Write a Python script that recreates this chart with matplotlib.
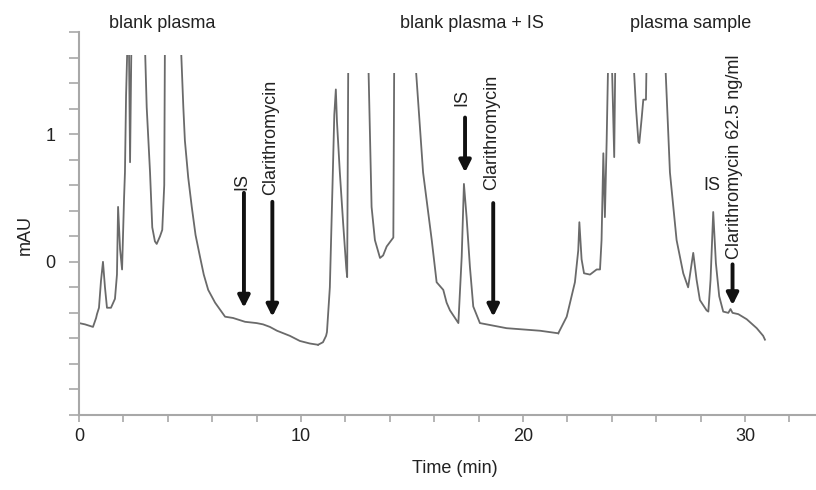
import numpy as np
import matplotlib
matplotlib.use("Agg")
import matplotlib.pyplot as plt
from matplotlib.patches import Rectangle

plt.rcParams['font.family'] = ['Liberation Sans', 'DejaVu Sans']

# ---- data: three chromatograms placed one after another (time in min, signal in mAU)
# values above the detector display range are off-scale (clipped at the panel top)
t_blank = [0.00, 0.27, 0.63, 0.77, 0.81, 0.90, 0.99, 1.08, 1.17, 1.26, 1.44, 1.62, 1.71, 1.76,
           1.85, 1.94, 2.03, 2.07, 2.12, 2.18, 2.22, 2.25, 2.30, 2.36, 2.45, 2.90, 2.97, 3.05,
           3.20, 3.30, 3.42, 3.50, 3.65, 3.75, 3.84, 3.87, 3.95, 4.50, 4.59, 4.70, 4.77, 4.92, 5.08,
           5.25, 5.45, 5.62, 5.82, 6.13, 6.58, 6.94, 7.48, 8.00, 8.29, 8.60, 8.92, 9.50, 9.95, 10.40, 10.77]
y_blank = [-0.48, -0.49, -0.51, -0.44, -0.41, -0.36, -0.15, 0.00, -0.20, -0.36, -0.36, -0.29, -0.10, 0.43,
           0.10, -0.06, 0.50, 0.70, 1.30, 1.70, 2.50, 1.70, 0.78, 1.70, 2.50, 2.50, 1.70, 1.21,
           0.70, 0.27, 0.16, 0.14, 0.20, 0.25, 0.60, 1.70, 2.50, 2.50, 1.70, 1.21, 0.95, 0.66, 0.43,
           0.21, 0.04, -0.10, -0.22, -0.32, -0.43, -0.44, -0.47, -0.48, -0.49, -0.51, -0.54, -0.58, -0.62, -0.64, -0.65]

t_blank_is = [10.77, 10.99, 11.13, 11.17, 11.30, 11.42, 11.50, 11.57, 11.62, 11.75, 11.90, 12.04, 12.08,
              12.13, 12.20, 12.95, 13.03, 13.18, 13.33, 13.56, 13.70, 13.86, 14.16, 14.20, 14.30,
              15.05, 15.14, 15.50, 15.89, 16.11, 16.41, 16.56, 16.71, 17.09, 17.24, 17.34, 17.46,
              17.61, 17.76, 18.06, 19.26, 20.77, 21.59]
y_blank_is = [-0.65, -0.63, -0.58, -0.55, -0.20, 0.60, 1.15, 1.35, 1.10, 0.70, 0.30, -0.05, -0.12,
              1.60, 2.50, 2.50, 1.60, 0.43, 0.17, 0.03, 0.05, 0.12, 0.19, 1.60, 2.50,
              2.50, 1.60, 0.70, 0.17, -0.16, -0.22, -0.32, -0.38, -0.48, 0.04, 0.61, 0.35,
              -0.04, -0.35, -0.48, -0.52, -0.54, -0.56]

t_sample = [21.59, 21.97, 22.34, 22.49, 22.54, 22.64, 22.75, 23.02, 23.32, 23.47, 23.54, 23.62, 23.69,
            23.77, 23.84, 23.90, 24.00, 24.11, 24.16, 24.25, 24.90, 24.97, 25.09, 25.20, 25.24, 25.35,
            25.42, 25.54, 25.57, 25.65, 26.30, 26.40, 26.62, 26.92, 27.22, 27.44, 27.67, 27.82,
            27.97, 28.27, 28.35, 28.45, 28.57, 28.69, 28.84, 29.02, 29.25, 29.35, 29.44, 29.70,
            30.08, 30.53, 30.82, 30.90]
y_sample = [-0.56, -0.43, -0.16, 0.09, 0.31, 0.02, -0.09, -0.10, -0.06, -0.06, 0.17, 0.85, 0.35,
            0.95, 1.60, 2.50, 1.60, 0.82, 1.60, 2.50, 2.50, 1.60, 1.21, 0.94, 0.93, 1.13,
            1.27, 1.27, 1.60, 2.50, 2.50, 1.60, 0.70, 0.17, -0.09, -0.20, 0.07, -0.14,
            -0.30, -0.38, -0.39, -0.14, 0.39, -0.01, -0.27, -0.39, -0.40, -0.37, -0.40, -0.41,
            -0.45, -0.52, -0.58, -0.61]

panel_titles = ["blank plasma", "blank plasma + IS", "plasma sample"]
panel_clip_top = [1.62, 1.48, 1.48]

# arrows: (label, time, arrow start y, arrow tip y)
arrow_notes = [
    ("IS", 7.43, 0.54, -0.36),
    ("Clarithromycin", 8.71, 0.47, -0.43),
    ("IS", 17.39, 1.13, 0.70),
    ("Clarithromycin", 18.66, 0.46, -0.43),
    ("Clarithromycin 62.5 ng/ml", 29.44, -0.02, -0.34),
]
# labels: (text, time, bottom y, rotation)
text_notes = [
    ("IS", 7.33, 0.56, 90),
    ("Clarithromycin", 8.62, 0.52, 90),
    ("IS", 17.27, 1.22, 90),
    ("Clarithromycin", 18.59, 0.56, 90),
    ("IS", 28.50, 0.53, 0),
    ("Clarithromycin 62.5 ng/ml", 29.55, 0.02, 90),
]

x_ticks = np.arange(0, 33, 2)
x_tick_labels = {0: "0", 10: "10", 20: "20", 30: "30"}
y_ticks = np.round(np.arange(-1.2, 1.81, 0.2), 1)
y_tick_labels = {0.0: "0", 1.0: "1"}

# ---- figure
fig = plt.figure(figsize=(8.16, 4.90), dpi=100)
ax = fig.add_axes([79/816, 1 - 415/490, 1 - 79/816, (415 - 32)/490])
ax.set_xlim(0, 33.2)
ax.set_ylim(-1.2, 1.8)

line_color = '#6a6a6a'
for tt, yy, top in zip([t_blank, t_blank_is, t_sample],
                       [y_blank, y_blank_is, y_sample], panel_clip_top):
    ln, = ax.plot(tt, yy, color=line_color, lw=1.3, solid_joinstyle='round')
    clip = Rectangle((-5, -2), 50, top + 2, transform=ax.transData)
    ln.set_clip_path(clip)

for txt, t, y0, y1 in arrow_notes:
    ax.annotate("", xy=(t, y1), xytext=(t, y0),
                arrowprops=dict(arrowstyle='-|>,head_length=0.7,head_width=0.35',
                                color='#111111', lw=2.8, shrinkA=0, shrinkB=0))
for txt, t, yb, rot in text_notes:
    ax.text(t, yb, txt, rotation=rot, ha='center', va='bottom', fontsize=13, color='#222222')

for s in ['top', 'right']:
    ax.spines[s].set_visible(False)
for s in ['left', 'bottom']:
    ax.spines[s].set_color('#a8a8a8')
    ax.spines[s].set_linewidth(1.5)

ax.set_xticks(x_ticks)
ax.set_xticklabels([x_tick_labels.get(int(v), "") for v in x_ticks])
ax.set_yticks(y_ticks)
ax.set_yticklabels([y_tick_labels.get(float(v), "") for v in y_ticks])
ax.tick_params(axis='x', length=5, width=1.2, color='#a8a8a8', labelsize=13, pad=4, labelcolor='#222222')
ax.tick_params(axis='y', length=7, width=1.2, color='#a8a8a8', labelsize=13, pad=10, labelcolor='#222222')

fig.text(25/816, 1 - 235/490, "mAU", rotation=90, ha='center', va='center', fontsize=13, color='#222222')
fig.text(455/816, 1 - 468/490, "Time (min)", ha='center', va='center', fontsize=13, color='#222222')

title_x = [162, 472, 691]
for title, xp in zip(panel_titles, title_x):
    fig.text(xp/816, 1 - 24/490, title, ha='center', va='center', fontsize=13, color='#222222')

fig.savefig("out.png", dpi=100, facecolor='white')
